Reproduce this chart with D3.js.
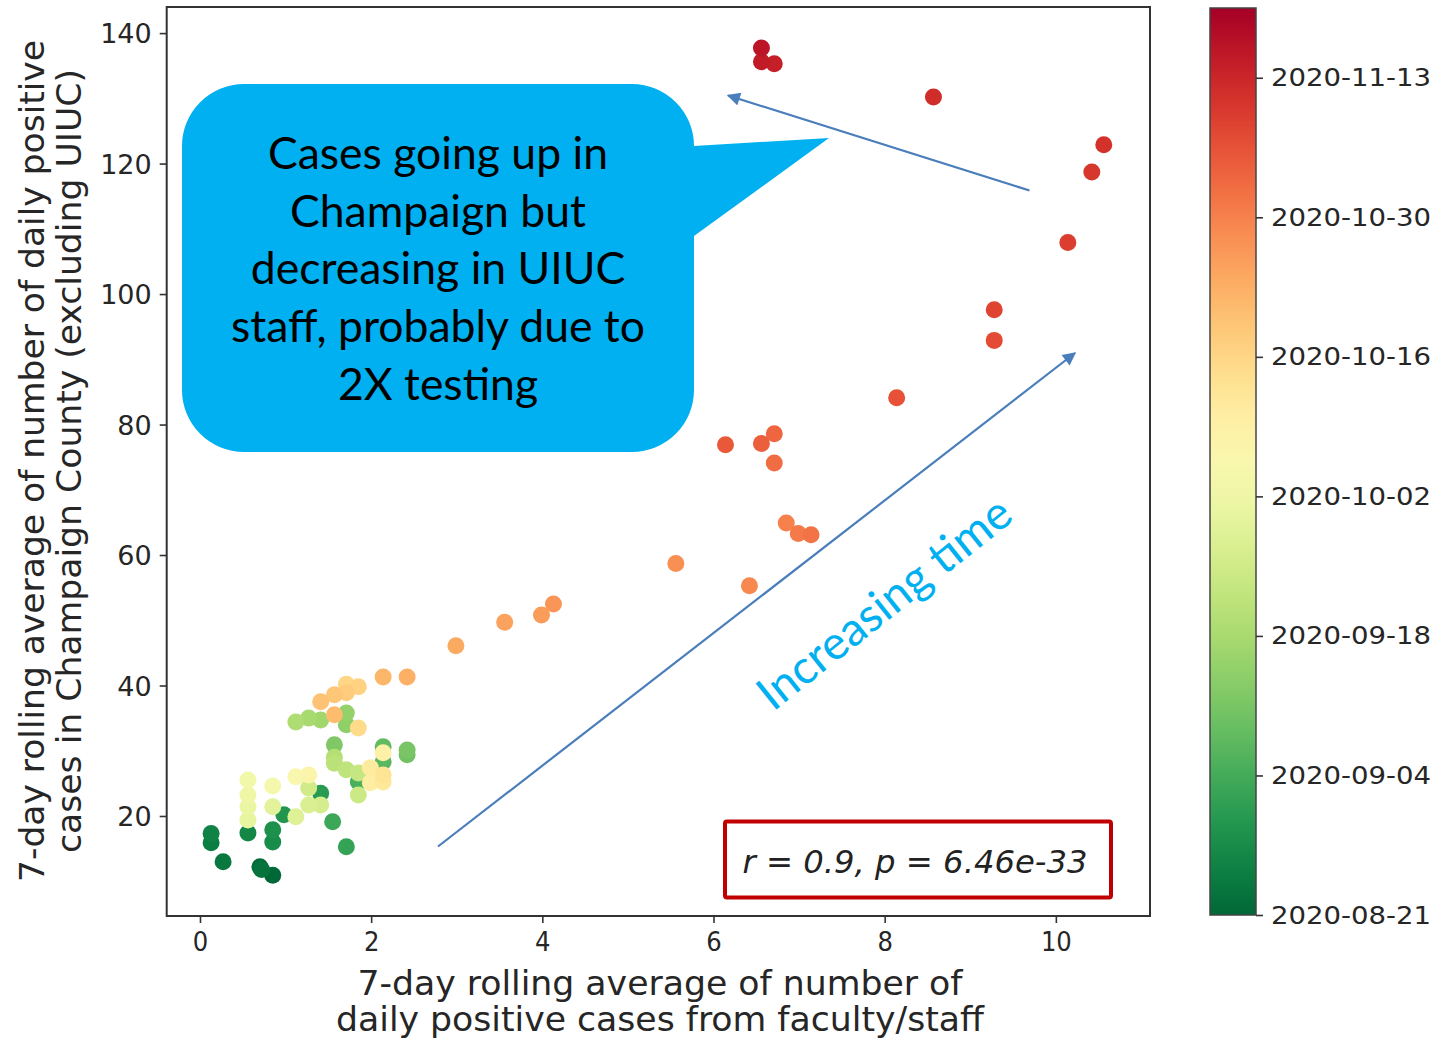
<!DOCTYPE html>
<html>
<head>
<meta charset="utf-8">
<script src="https://cdn.jsdelivr.net/npm/d3@7"></script>
<style>
  html, body { margin: 0; padding: 0; background: #fff; }
  svg { display: block; }
  text { font-family: "DejaVu Sans", sans-serif; fill: #262626; }
  .cond { font-family: "DejaVu Sans Condensed", "DejaVu Sans", sans-serif; font-stretch: condensed; }
</style>
</head>
<body>
<svg id="chart" width="1443" height="1039"></svg>
<script>
// 7-day rolling averages: faculty/staff positives (x) vs Champaign County positives (y)
const staffAvg = [
  0.85, 0.70, 0.72, 0.27, 0.13, 0.13, 0.56, 0.85, 0.85, 0.98,
  1.41, 1.71, 1.55, 1.85, 2.14, 2.14, 2.42, 2.42, 1.57, 1.71,
  1.71, 1.41, 1.27, 1.12, 1.57, 1.57, 1.71, 1.85, 1.85, 1.27,
  1.41, 1.27, 1.12, 0.85, 0.56, 0.56, 0.56, 0.56, 0.85, 1.12,
  1.27, 2.14, 1.99, 1.99, 2.14, 2.14, 1.85, 1.71, 1.85, 1.71,
  1.57, 1.41, 1.57, 2.14, 2.42, 2.99, 3.56, 3.99, 4.13, 5.56,
  6.42, 6.85, 6.99, 7.14, 6.71, 6.71, 6.56, 6.14, 8.14, 9.28,
  9.28, 10.14, 10.42, 10.56, 8.57, 6.71, 6.56, 6.56
];
const countyAvg = [
  10.9, 12.2, 11.8, 13.0, 15.9, 17.3, 17.4, 16.0, 17.9, 20.2,
  23.5, 15.3, 19.1, 25.2, 28.3, 30.6, 29.4, 30.1, 30.9, 34.0,
  35.8, 34.7, 35.0, 34.4, 29.0, 28.1, 27.1, 26.6, 23.2, 24.3,
  21.7, 21.7, 19.9, 21.4, 19.4, 21.4, 23.2, 25.5, 24.6, 26.0,
  26.3, 29.7, 25.1, 27.4, 25.2, 26.3, 33.5, 40.2, 39.8, 38.9,
  38.6, 37.5, 35.5, 41.3, 41.3, 46.1, 49.7, 50.8, 52.5, 58.7,
  55.3, 64.9, 63.3, 63.1, 74.1, 78.6, 77.1, 76.9, 84.1, 92.9,
  97.6, 107.9, 118.7, 122.9, 130.2, 135.3, 135.6, 137.7
];
const dates = [
  "2020-08-21", "2020-08-22", "2020-08-23", "2020-08-24", "2020-08-25", "2020-08-26", "2020-08-27", "2020-08-28", "2020-08-29", "2020-08-30",
  "2020-08-31", "2020-09-02", "2020-09-03", "2020-09-05", "2020-09-07", "2020-09-08", "2020-09-10", "2020-09-11", "2020-09-12", "2020-09-14",
  "2020-09-15", "2020-09-17", "2020-09-18", "2020-09-19", "2020-09-20", "2020-09-21", "2020-09-22", "2020-09-23", "2020-09-24", "2020-09-25",
  "2020-09-26", "2020-09-27", "2020-09-28", "2020-09-29", "2020-09-30", "2020-10-01", "2020-10-02", "2020-10-03", "2020-10-04", "2020-10-06",
  "2020-10-07", "2020-10-09", "2020-10-10", "2020-10-11", "2020-10-12", "2020-10-13", "2020-10-15", "2020-10-16", "2020-10-17", "2020-10-18",
  "2020-10-19", "2020-10-20", "2020-10-21", "2020-10-22", "2020-10-23", "2020-10-24", "2020-10-25", "2020-10-26", "2020-10-27", "2020-10-28",
  "2020-10-29", "2020-10-30", "2020-10-31", "2020-11-01", "2020-11-02", "2020-11-03", "2020-11-04", "2020-11-05", "2020-11-06", "2020-11-07",
  "2020-11-08", "2020-11-09", "2020-11-10", "2020-11-11", "2020-11-12", "2020-11-14", "2020-11-15", "2020-11-16"
];

const xTicks = [0, 2, 4, 6, 8, 10];
const yTicks = [20, 40, 60, 80, 100, 120, 140];
const colorbarTicks = ["2020-08-21", "2020-09-04", "2020-09-18", "2020-10-02", "2020-10-16", "2020-10-30", "2020-11-13"];
const dateRange = ["2020-08-21", "2020-11-20"];

const xLabelLines = ["7-day rolling average of number of", "daily positive cases from faculty/staff"];
const yLabelLines = ["7-day rolling average of number of daily positive", "cases in Champaign County (excluding UIUC)"];
const calloutLines = ["Cases going up in", "Champaign but", "decreasing in UIUC", "staff, probably due to", "2X testing"];
const statsText = "r = 0.9, p = 6.46e-33";
const trendText = "Increasing time";

const svg = d3.select("#chart");
const parse = d3.timeParse("%Y-%m-%d");

const plot = { left: 166.7, right: 1150, top: 7, bottom: 916 };
const x = d3.scaleLinear().domain([-0.389, 11.1]).range([plot.left, plot.right]);
const y = d3.scaleLinear().domain([4.67, 144.0]).range([plot.bottom, plot.top]);
const t = d3.scaleTime().domain(dateRange.map(parse)).range([0, 1]);
const colour = d => d3.interpolateRdYlGn(1 - t(d));

// fit a text element's font size so that it spans a given width
function fitWidth(sel, width) {
  sel.style("font-size", "100px");
  const w = sel.node().getComputedTextLength();
  sel.style("font-size", (100 * width / w) + "px");
}

// scatter points
const points = dates.map((d, i) => ({ date: parse(d), sx: staffAvg[i], cy: countyAvg[i] }));
svg.append("g").selectAll("circle").data(points).join("circle")
  .attr("cx", d => x(d.sx))
  .attr("cy", d => y(d.cy))
  .attr("r", 8.5)
  .attr("fill", d => colour(d.date));

// axes
const xAxis = svg.append("g").attr("transform", `translate(0,${plot.bottom})`)
  .call(d3.axisBottom(x).tickValues(xTicks).tickSize(7).tickPadding(9).tickFormat(d3.format("d")));
const yAxis = svg.append("g").attr("transform", `translate(${plot.left},0)`)
  .call(d3.axisLeft(y).tickValues(yTicks).tickSize(7).tickPadding(8).tickFormat(d3.format("d")));
[xAxis, yAxis].forEach(a => {
  a.select(".domain").remove();
  a.selectAll(".tick line").attr("stroke", "#333").attr("stroke-width", 1.6);
  a.selectAll(".tick text").attr("fill", "#262626").style("font-family", "DejaVu Sans");
});
xAxis.selectAll(".tick text").attr("class", "cond").style("font-size", "27px");
yAxis.selectAll(".tick text").style("font-size", "27px").attr("dy", "0.36em");

svg.append("rect")
  .attr("x", plot.left).attr("y", plot.top)
  .attr("width", plot.right - plot.left).attr("height", plot.bottom - plot.top)
  .attr("fill", "none").attr("stroke", "#333").attr("stroke-width", 2);

// axis titles
const xLabelWidths = [605, 648];
xLabelLines.forEach((line, i) => {
  svg.append("text").attr("class", "cond").attr("x", 660).attr("y", 995 + i * 35.5)
    .attr("text-anchor", "middle").style("font-size", "33px")
    .attr("textLength", xLabelWidths[i]).attr("lengthAdjust", "spacingAndGlyphs")
    .text(line);
});
const yLabelWidths = [842, 784];
yLabelLines.forEach((line, i) => {
  svg.append("text").attr("class", "cond")
    .attr("transform", `translate(${44 + i * 37},461) rotate(-90)`)
    .attr("text-anchor", "middle").style("font-size", "33px")
    .attr("textLength", yLabelWidths[i]).attr("lengthAdjust", "spacingAndGlyphs")
    .text(line);
});

// colour bar
const cb = { x: 1210, w: 46, top: 8, bottom: 915 };
const cbScale = d3.scaleTime().domain(dateRange.map(parse)).range([cb.bottom, cb.top]);
const grad = svg.append("defs").append("linearGradient")
  .attr("id", "cbGrad").attr("x1", 0).attr("y1", 1).attr("x2", 0).attr("y2", 0);
d3.range(0, 1.0001, 0.05).forEach(s => {
  grad.append("stop").attr("offset", s).attr("stop-color", d3.interpolateRdYlGn(1 - s));
});
svg.append("rect").attr("x", cb.x).attr("y", cb.top).attr("width", cb.w).attr("height", cb.bottom - cb.top)
  .attr("fill", "url(#cbGrad)").attr("stroke", "#444").attr("stroke-width", 1.5);
const cbAxis = svg.append("g").attr("transform", `translate(${cb.x + cb.w},0)`)
  .call(d3.axisRight(cbScale).tickValues(colorbarTicks.map(parse)).tickSize(7).tickPadding(8)
    .tickFormat(d3.timeFormat("%Y-%m-%d")));
cbAxis.select(".domain").remove();
cbAxis.selectAll(".tick line").attr("stroke", "#333").attr("stroke-width", 1.6);
cbAxis.selectAll(".tick text").attr("fill", "#262626").style("font-family", "DejaVu Sans")
  .style("font-size", "25px").attr("textLength", 160).attr("lengthAdjust", "spacingAndGlyphs");

// annotation arrows
const defs = svg.select("defs");
defs.append("marker").attr("id", "head").attr("viewBox", "0 0 10 10")
  .attr("refX", 9).attr("refY", 5).attr("markerWidth", 7).attr("markerHeight", 6)
  .attr("orient", "auto").attr("markerUnits", "strokeWidth")
  .append("path").attr("d", "M0,0 L10,5 L0,10 z").attr("fill", "#4A7EBB");
const arrows = [[[438, 846.5], [1075, 353]], [[1029.5, 190.5], [728, 95.5]]];
arrows.forEach(([a, b]) => {
  svg.append("line").attr("x1", a[0]).attr("y1", a[1]).attr("x2", b[0]).attr("y2", b[1])
    .attr("stroke", "#4A7EBB").attr("stroke-width", 2.2).attr("marker-end", "url(#head)");
});

const trend = svg.append("text")
  .attr("transform", "translate(884,603) rotate(-38.5)")
  .attr("text-anchor", "middle").attr("dy", "0.35em")
  .style("font-family", "Lato, 'Open Sans', sans-serif").style("fill", "#00B0F0")
  .text(trendText);
fitWidth(trend, 310);

// speech callout
const box = { x0: 182, x1: 694, y0: 84, y1: 452, r: 62 };
const callout = d3.path();
callout.moveTo(box.x0 + box.r, box.y0);
callout.lineTo(box.x1 - box.r, box.y0);
callout.arcTo(box.x1, box.y0, box.x1, box.y0 + box.r, box.r);
callout.lineTo(box.x1, 146);
callout.lineTo(829, 138);
callout.lineTo(box.x1, 236);
callout.lineTo(box.x1, box.y1 - box.r);
callout.arcTo(box.x1, box.y1, box.x1 - box.r, box.y1, box.r);
callout.lineTo(box.x0 + box.r, box.y1);
callout.arcTo(box.x0, box.y1, box.x0, box.y1 - box.r, box.r);
callout.lineTo(box.x0, box.y0 + box.r);
callout.arcTo(box.x0, box.y0, box.x0 + box.r, box.y0, box.r);
callout.closePath();
svg.append("path").attr("d", callout.toString()).attr("fill", "#00B0F0");

const calloutText = svg.append("g");
calloutLines.forEach((line, i) => {
  calloutText.append("text").attr("x", 438).attr("y", 169 + i * 57.7)
    .attr("text-anchor", "middle")
    .style("font-family", "Lato, 'Open Sans', sans-serif").style("fill", "#000")
    .text(line);
});
// size from the widest line
const widest = calloutText.selectAll("text").filter((d, i) => i === 3);
fitWidth(widest, 414);
const fs = widest.style("font-size");
calloutText.selectAll("text").style("font-size", fs);

// statistics box
svg.append("rect").attr("x", 725).attr("y", 821.5).attr("width", 386).attr("height", 76)
  .attr("fill", "#fff").attr("stroke", "#C00000").attr("stroke-width", 4).attr("rx", 2);
const stats = svg.append("text").attr("x", 915).attr("y", 873)
  .attr("text-anchor", "middle").style("font-style", "italic").style("fill", "#222")
  .text(statsText);
fitWidth(stats, 345);
</script>
</body>
</html>
